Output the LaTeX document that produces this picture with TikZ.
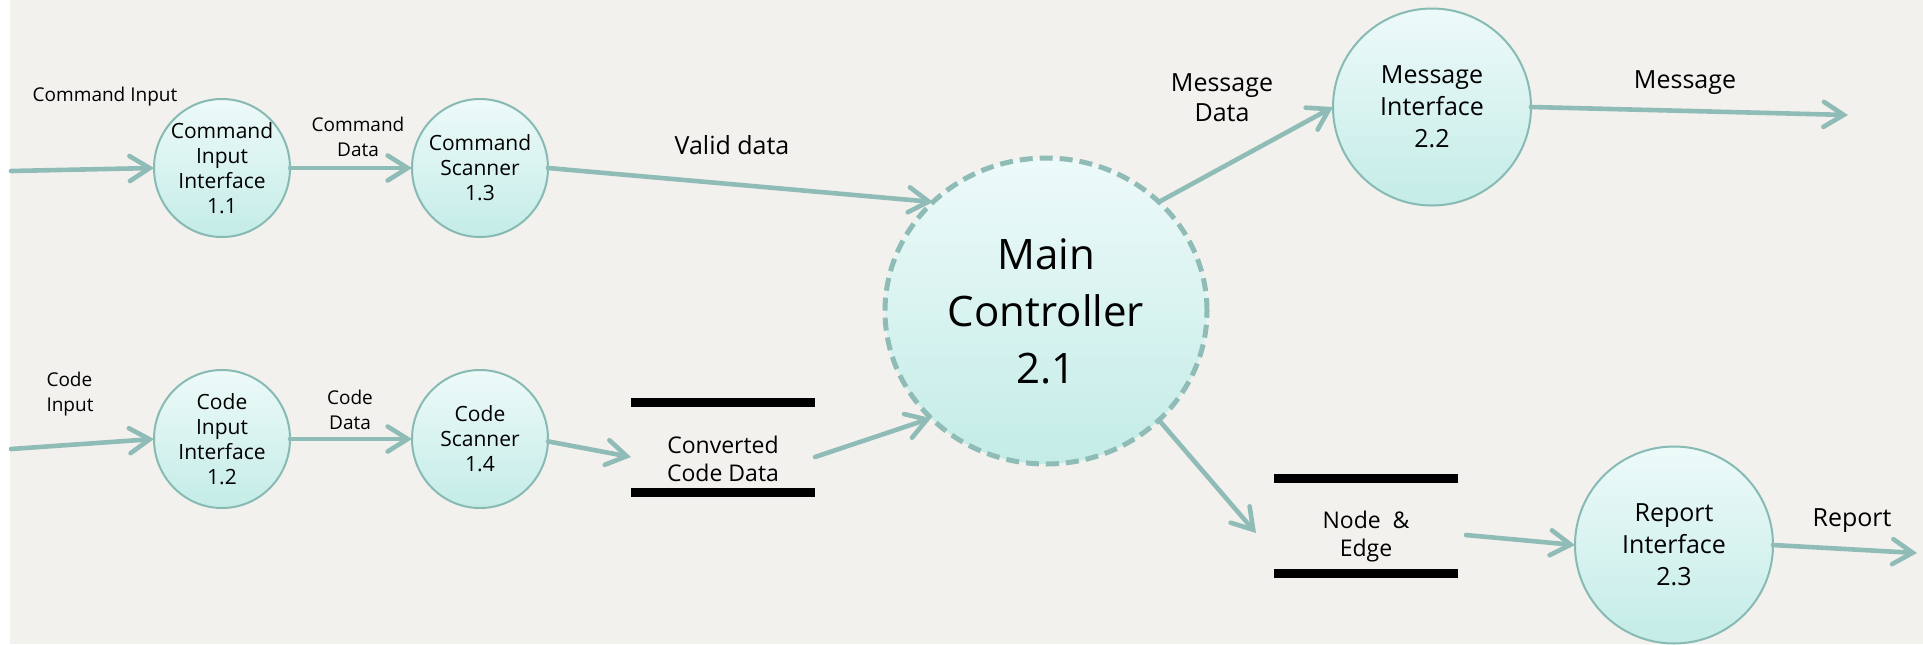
\documentclass[tikz,border=0pt]{standalone}
\usepackage{fontspec}
\setmainfont{Open Sans}
\usetikzlibrary{arrows.meta,shapes.geometric}
\definecolor{paper}{HTML}{F2F1ED}
\definecolor{flowc}{HTML}{8FBCB6}
\definecolor{rimc}{HTML}{88BAB4}
\definecolor{filltop}{HTML}{EDFAF9}
\definecolor{fillbot}{HTML}{C4ECE7}
\begin{document}
\begin{tikzpicture}[x=0.5pt,y=-0.5pt,
  proc/.style={ellipse, draw=rimc, line width=1pt, top color=filltop,
    bottom color=fillbot, inner sep=-4pt, outer sep=0pt, align=center},
  smallproc/.style={proc, minimum width=68pt, minimum height=69pt,
    font=\fontsize{10.5}{12.5}\selectfont},
  midproc/.style={proc, minimum width=99pt, minimum height=98.5pt,
    font=\fontsize{12.5}{16}\selectfont},
  mainproc/.style={proc, draw=flowc, line width=2.5pt, dash pattern=on 6.5pt off 3.5pt,
    minimum width=161pt, minimum height=153pt,
    font=\fontsize{21}{28.5}\selectfont},
  store/.style={inner sep=0pt, outer sep=0pt, minimum width=92pt, align=center,
    font=\fontsize{11.5}{14}\selectfont},
  bar/.style={line width=4.5pt, black},
  lbl/.style={inner sep=0pt, font=\fontsize{9.5}{12.5}\selectfont},
  biglbl/.style={inner sep=0pt, font=\fontsize{12.5}{15}\selectfont},
  flow/.style={draw=flowc, line width=2.3pt, line cap=round,
    -{Straight Barb[length=10pt,width=12.5pt,line cap=round]}}
]
% paper background
\useasboundingbox (0,0) rectangle (1923,644);
\fill[white] (0,0) rectangle (1923,644);
\fill[paper] (10,0) rectangle (1923,644);

% processes
\node[smallproc] (ci11) at (222,168) {Command\\Input\\Interface\\1.1};
\node[smallproc] (cs13) at (480,168) {Command\\Scanner\\1.3};
\node[smallproc] (ci12) at (222,439) {Code\\Input\\Interface\\1.2};
\node[smallproc] (cs14) at (480,439) {Code\\Scanner\\1.4};
\node[mainproc] (main) at (1046,311) {Main\\Controller\\2.1};
\node[midproc] (mi) at (1432,107) {Message\\Interface\\2.2};
\node[midproc] (ri) at (1674,545) {Report\\Interface\\2.3};

% data stores
\node[store] (cstore) at (723,459) {Converted\\Code Data};
\draw[bar] ([yshift=28.25pt]cstore.west) -- ([yshift=28.25pt]cstore.east);
\draw[bar] ([yshift=-16.75pt]cstore.west) -- ([yshift=-16.75pt]cstore.east);
\node[store] (nestore) at (1366,537) {Node~~\&\\Edge};
\draw[bar] ([yshift=29.5pt]nestore.west) -- ([yshift=29.5pt]nestore.east);
\draw[bar] ([yshift=-18pt]nestore.west) -- ([yshift=-18pt]nestore.east);

% free ends of external flows
\coordinate (cin) at (11,171);
\coordinate (codein) at (11,449);
\coordinate (msgout) at (1848,115);
\coordinate (repout) at (1917,553);

% flows
\draw[flow] (cin) -- (ci11.west);
\draw[flow] (ci11.east) -- (cs13.west);
\draw[flow] (cs13.east) -- (main.136);
\draw[flow] (codein) -- (ci12.west);
\draw[flow] (ci12.east) -- (cs14.west);
\draw[flow] (cs14.-2) -- ([yshift=1pt]cstore.west);
\draw[flow] ([yshift=1pt]cstore.east) -- (main.223);
\draw[flow] (main.44) -- (mi.west);
\draw[flow] (mi.east) -- (msgout);
\draw[flow] (main.316) -- ([xshift=-9pt,yshift=2pt]nestore.west);
\draw[flow] ([xshift=4pt,yshift=1pt]nestore.east) -- (ri.west);
\draw[flow] (ri.east) -- (repout);

% flow labels
\node[lbl] (lcmdin) at (105,97) {Command Input};
\node[lbl, align=center] (lcmddata) at (358,137) {Command\\Data};
\node[lbl, align=left] (lcodein) at (70,394) {Code\\Input};
\node[lbl, align=center] (lcodedata) at (350,410) {Code\\Data};
\node[biglbl] (lvalid) at (732,145) {Valid data};
\node[biglbl, align=center] (lmsgdata) at (1222,98) {Message\\Data};
\node[biglbl] (lmsg) at (1685,83) {Message};
\node[biglbl] (lrep) at (1852,521) {Report};
\end{tikzpicture}
\end{document}
